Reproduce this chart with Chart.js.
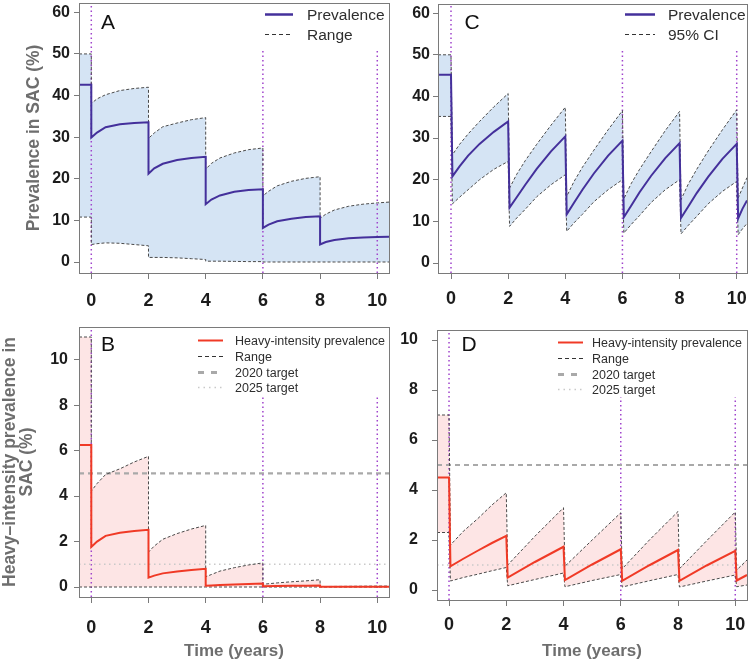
<!DOCTYPE html>
<html>
<head>
<meta charset="utf-8">
<script src="https://cdn.jsdelivr.net/npm/chart.js@4.4.1/dist/chart.umd.min.js"></script>
<style>
  body { margin: 0; background: #fff; }
  #wrap { position: relative; width: 750px; height: 665px; overflow: hidden; background: #fff; }
  canvas { position: absolute; }
</style>
</head>
<body>
<div id="wrap">
  <canvas id="cA" width="392" height="318" style="left:0;top:0"></canvas>
  <canvas id="cC" width="358" height="318" style="left:392px;top:0"></canvas>
  <canvas id="cB" width="392" height="347" style="left:0;top:318px"></canvas>
  <canvas id="cD" width="358" height="347" style="left:392px;top:318px"></canvas>
</div>
<script>
// --- DATOS ---
const xTickVals = [0, 2, 4, 6, 8, 10];
const yTicksTop = [0, 10, 20, 30, 40, 50, 60];
const yTicksBottom = [0, 2, 4, 6, 8, 10];
const mdaYears = [0, 6, 10];
const target2020 = 5;
const target2025 = 1;

// Panel A
const xA = [-0.43, 0, 0, 0.2, 0.5, 1, 1.5, 2, 2, 2.2, 2.5, 3, 3.5, 4, 4, 4.2, 4.5, 5, 5.5, 6, 6, 6.2, 6.5, 7, 7.5, 8, 8, 8.2, 8.5, 9, 9.5, 10, 10.41];
const prevA = [42.6, 42.6, 29.9, 31.1, 32.4, 33.1, 33.4, 33.6, 21.2, 22.5, 23.6, 24.5, 25.0, 25.3, 13.9, 15.0, 16.0, 16.9, 17.3, 17.5, 8.2, 9.0, 9.8, 10.4, 10.8, 11.0, 4.2, 4.8, 5.3, 5.7, 5.9, 6.0, 6.1];
const upA = [50, 50, 38.1, 39.2, 40.2, 41.2, 41.7, 42.0, 29.7, 31.0, 32.5, 33.4, 34.2, 34.7, 22.3, 23.7, 25.0, 26.2, 27.0, 27.4, 15.9, 17.0, 18.3, 19.4, 20.1, 20.5, 10.5, 11.5, 12.5, 13.4, 13.9, 14.2, 14.4];
const loA = [10.8, 10.8, 4.2, 4.4, 4.6, 4.5, 4.2, 3.9, 1.1, 1.1, 1.1, 1.0, 0.8, 0.6, 0.2, 0.2, 0.2, 0.15, 0.1, 0.1, 0, 0, 0, 0, 0, 0, 0, 0, 0, 0, 0, 0, 0];
const vTopA = [62.24, 51.4, 51.4];

// Panel C
const xC = [-0.455, 0, 0.05, 0.3, 0.6, 1, 1.5, 2, 2.05, 2.3, 2.6, 3, 3.5, 4, 4.05, 4.3, 4.6, 5, 5.5, 6, 6.05, 6.3, 6.6, 7, 7.5, 8, 8.05, 8.3, 8.6, 9, 9.5, 10, 10.05, 10.2, 10.36];
const prevC = [45.2, 45.2, 20.8, 23.2, 25.8, 28.6, 31.5, 34.0, 13.3, 15.8, 18.8, 22.6, 26.8, 30.4, 11.7, 14.4, 17.6, 21.5, 25.8, 29.4, 11.0, 13.7, 17.0, 20.9, 25.2, 28.8, 10.8, 13.5, 16.8, 20.7, 25.0, 28.6, 10.7, 13.0, 15.0];
const upC = [50, 50, 26.0, 28.5, 31.0, 34.0, 37.5, 40.7, 18.0, 21.3, 24.6, 28.5, 33.1, 37.4, 16.0, 19.5, 23.0, 27.1, 32.0, 36.6, 15.4, 19.0, 22.5, 26.7, 31.8, 36.4, 15.2, 18.9, 22.5, 26.9, 32.0, 36.8, 15.6, 18.0, 20.5];
const loC = [35.2, 35.2, 14.2, 15.8, 17.6, 20.0, 22.5, 24.4, 8.8, 10.8, 12.9, 15.9, 18.8, 21.2, 7.6, 9.6, 11.7, 14.7, 17.6, 20.0, 7.2, 9.2, 11.4, 14.5, 17.6, 20.0, 7.0, 9.0, 11.2, 14.2, 17.2, 19.6, 6.8, 8.2, 9.5];
const vTopC = [62.2, 51.4, 51.4];

// Panel B
const xB = [-0.43, 0, 0, 0.2, 0.5, 1, 1.5, 2, 2, 2.2, 2.5, 3, 3.5, 4, 4, 4.2, 4.5, 5, 5.5, 6, 6, 6.5, 7, 7.5, 8, 8, 9, 10, 10.41];
const prevB = [6.25, 6.25, 1.76, 2.0, 2.25, 2.39, 2.46, 2.52, 0.41, 0.5, 0.6, 0.68, 0.75, 0.8, 0.06, 0.07, 0.09, 0.11, 0.13, 0.15, 0.03, 0.04, 0.05, 0.05, 0.06, 0.01, 0.01, 0.01, 0.01];
const upB = [11.0, 11.0, 4.22, 4.55, 4.95, 5.2, 5.5, 5.75, 1.54, 1.8, 2.1, 2.35, 2.55, 2.71, 0.45, 0.55, 0.7, 0.85, 0.97, 1.06, 0.12, 0.18, 0.23, 0.27, 0.32, 0.02, 0.03, 0.04, 0.04];
const loB = [0, 0, 0, 0, 0, 0, 0, 0, 0, 0, 0, 0, 0, 0, 0, 0, 0, 0, 0, 0, 0, 0, 0, 0, 0, 0, 0, 0, 0];
const vTopB = [11.44, 8.35, 8.35];

// Panel D
const xD = [-0.42, 0, 0.05, 0.5, 1, 1.5, 2, 2.05, 3, 4, 4.05, 5, 6, 6.05, 7, 8, 8.05, 9, 10, 10.05, 10.41];
const prevD = [4.5, 4.5, 0.95, 1.25, 1.57, 1.88, 2.17, 0.5, 1.12, 1.73, 0.4, 1.02, 1.63, 0.37, 0.99, 1.6, 0.37, 0.98, 1.57, 0.38, 0.6];
const upD = [7.0, 7.0, 1.8, 2.35, 2.85, 3.4, 3.89, 1.0, 2.15, 3.29, 0.95, 2.0, 3.09, 0.85, 2.0, 3.14, 0.85, 1.97, 3.12, 0.8, 1.2];
const loD = [2.3, 2.3, 0.36, 0.5, 0.63, 0.77, 0.9, 0.17, 0.42, 0.68, 0.13, 0.38, 0.62, 0.12, 0.37, 0.62, 0.12, 0.36, 0.6, 0.13, 0.2];
const vTopD = [10.4, 7.72, 7.72];

const legendTop = ['Prevalence', 'Range'];
const legendTopC = ['Prevalence', '95% CI'];
const legendBottom = ['Heavy-intensity prevalence', 'Range', '2020 target', '2025 target'];

// --- ESTILOS ---
const PURPLE = '#44309b';
const RED = '#f03a26';
const BLUE_FILL = '#d5e4f4';
const PINK_FILL = '#fde5e5';
const VLINE = '#a044cc';
const RANGE = '#4a4a4a';
const T2020 = '#a9a9a9';
const T2025 = '#c9c9c9';
const SANS = '"Liberation Sans", Arial, sans-serif';

const pts = (xs, ys) => xs.map((x, i) => ({ x: x, y: ys[i] }));

function vlinePts(tops, ymin) {
    const out = [];
    mdaYears.forEach((x, i) => {
        out.push({ x: x, y: ymin }, { x: x, y: tops[i] }, { x: x, y: null });
    });
    return out;
}

// caja, letra del panel y leyenda
const panelDeco = {
    id: 'panelDeco',
    afterDraw(chart, args, o) {
        const { ctx, chartArea: a } = chart;
        ctx.save();
        ctx.strokeStyle = '#7a7a7a';
        ctx.lineWidth = 1;
        ctx.setLineDash([]);
        ctx.strokeRect(Math.round(a.left) + 0.5, Math.round(a.top) + 0.5, Math.round(a.right - a.left), Math.round(a.bottom - a.top));

        ctx.fillStyle = '#111';
        ctx.font = '21px ' + SANS;
        ctx.textAlign = 'center';
        ctx.textBaseline = 'middle';
        ctx.fillText(o.letter, a.left + o.letterX, a.top + o.letterY);

        ctx.font = o.font;
        ctx.textAlign = 'left';
        o.items.forEach((it, i) => {
            const y = Math.round(a.top + o.y + i * o.rowH) + 0.5;
            ctx.beginPath();
            ctx.strokeStyle = it.color;
            ctx.lineWidth = it.width;
            ctx.setLineDash(it.dash || []);
            ctx.moveTo(a.left + o.x, y);
            ctx.lineTo(a.left + o.x + o.len, y);
            ctx.stroke();
            ctx.setLineDash([]);
            ctx.fillStyle = '#2e2e2e';
            ctx.fillText(it.label, a.left + o.textX, y + 1);
        });
        ctx.restore();
    }
};

function makeChart(id, p) {
    const line = (data, color, width, dash, extra) => Object.assign({
        data: data, borderColor: color, borderWidth: width, borderDash: dash,
        pointRadius: 0, tension: 0, fill: false, spanGaps: false
    }, extra || {});

    const datasets = [
        line(pts(p.xs, p.prev), p.mainColor, 2),
        line(pts(p.xs, p.up), RANGE, 1, [3, 2], { fill: '+1', backgroundColor: p.fillColor }),
        line(pts(p.xs, p.lo), RANGE, 1, [3, 2])
    ];
    if (p.targets) {
        datasets.push(line([{ x: p.xmin, y: target2020 }, { x: p.xmax, y: target2020 }], T2020, 2.2, [5, 4]));
        datasets.push(line([{ x: p.xmin, y: target2025 }, { x: p.xmax, y: target2025 }], T2025, 1.5, [1.5, 3.5]));
    }
    datasets.push(line(vlinePts(p.vTop, p.ymin), VLINE, 1.5, [1.5, 3]));

    return new Chart(document.getElementById(id), {
        type: 'line',
        data: { datasets: datasets },
        plugins: [panelDeco],
        options: {
            responsive: false,
            animation: false,
            devicePixelRatio: 1,
            layout: { padding: { top: p.padTop, right: p.padRight, left: 0, bottom: 0 } },
            plugins: {
                legend: { display: false },
                tooltip: { enabled: false },
                filler: { drawTime: 'beforeDatasetsDraw' },
                panelDeco: p.deco
            },
            scales: {
                x: {
                    type: 'linear', min: p.xmin, max: p.xmax,
                    afterFit: s => { s.height = p.xH; s.paddingLeft = 0; s.paddingRight = 0; },
                    afterBuildTicks: s => { s.ticks = xTickVals.map(v => ({ value: v })); },
                    ticks: { color: '#1c1c1c', padding: p.xPad, maxRotation: 0, font: { family: SANS, weight: 'bold', size: 18 } },
                    grid: { drawOnChartArea: false, tickLength: 6, color: '#7a7a7a' },
                    border: { display: false },
                    title: p.xTitle ? {
                        display: true, text: 'Time (years)', color: '#6e6e6e',
                        font: { family: SANS, weight: 'bold', size: 17 }, padding: { top: 0, bottom: 3 }
                    } : { display: false }
                },
                y: {
                    type: 'linear', min: p.ymin, max: p.ymax,
                    afterFit: s => { s.width = p.yW; s.paddingTop = 0; s.paddingBottom = 0; },
                    afterBuildTicks: s => { s.ticks = p.yTicks.map(v => ({ value: v })); },
                    ticks: { color: '#1c1c1c', padding: p.yPad, font: { family: SANS, weight: 'bold', size: 16 } },
                    grid: { drawOnChartArea: false, tickLength: 5, color: '#7a7a7a' },
                    border: { display: false },
                    title: p.yTitle ? {
                        display: true, text: p.yTitle, color: '#6e6e6e',
                        font: { family: SANS, weight: 'bold', size: 17.5, lineHeight: p.yTitleLH },
                        padding: { top: p.yTitlePad, bottom: 0 }
                    } : { display: false }
                }
            }
        }
    });
}

const legendTopItems = labels => [
    { label: labels[0], color: PURPLE, width: 2.5 },
    { label: labels[1], color: '#333', width: 1, dash: [4, 3] }
];
const legendBottomItems = [
    { label: legendBottom[0], color: RED, width: 2 },
    { label: legendBottom[1], color: '#333', width: 1, dash: [4, 3] },
    { label: legendBottom[2], color: T2020, width: 3, dash: [6, 7] },
    { label: legendBottom[3], color: T2025, width: 1.5, dash: [1.5, 4] }
];

makeChart('cA', {
    xs: xA, prev: prevA, up: upA, lo: loA, vTop: vTopA, mainColor: PURPLE, fillColor: BLUE_FILL,
    xmin: -0.43, xmax: 10.41, ymin: -2.64, ymax: 62.24, yTicks: yTicksTop,
    padTop: 3, padRight: 3, yW: 79, xH: 45, xPad: 11, yPad: 4,
    yTitle: 'Prevalence in SAC (%)', yTitleLH: 1.2, yTitlePad: 24,
    deco: { letter: 'A', letterX: 29, letterY: 20, font: '15.5px ' + SANS, items: legendTopItems(legendTop), x: 186, len: 28, textX: 228, y: 11, rowH: 19.5 }
});

makeChart('cC', {
    xs: xC, prev: prevC, up: upC, lo: loC, vTop: vTopC, mainColor: PURPLE, fillColor: BLUE_FILL,
    xmin: -0.455, xmax: 10.36, ymin: -2.4, ymax: 62.2, yTicks: yTicksTop,
    padTop: 4, padRight: 3, yW: 46, xH: 45, xPad: 9, yPad: 3,
    yTitle: null,
    deco: { letter: 'C', letterX: 34, letterY: 19, font: '15.5px ' + SANS, items: legendTopItems(legendTopC), x: 187, len: 30, textX: 230, y: 10, rowH: 19.5 }
});

makeChart('cB', {
    xs: xB, prev: prevB, up: upB, lo: loB, vTop: vTopB, mainColor: RED, fillColor: PINK_FILL, targets: true,
    xmin: -0.43, xmax: 10.41, ymin: -0.44, ymax: 11.44, yTicks: yTicksBottom,
    padTop: 9, padRight: 3, yW: 79, xH: 68, xPad: 14, yPad: 6, xTitle: true,
    yTitle: ['Heavy\u2013intensity prevalence in', 'SAC (%)'], yTitleLH: 1.0, yTitlePad: 1,
    deco: { letter: 'B', letterX: 29, letterY: 18, font: '12.5px ' + SANS, items: legendBottomItems, x: 119, len: 25, textX: 156, y: 13, rowH: 15.8 }
});

makeChart('cD', {
    xs: xD, prev: prevD, up: upD, lo: loD, vTop: vTopD, mainColor: RED, fillColor: PINK_FILL, targets: true,
    xmin: -0.42, xmax: 10.41, ymin: -0.4, ymax: 10.4, yTicks: yTicksBottom,
    padTop: 12, padRight: 3, yW: 45, xH: 65, xPad: 8, yPad: 14, xTitle: true,
    yTitle: null,
    deco: { letter: 'D', letterX: 32, letterY: 15, font: '12.5px ' + SANS, items: legendBottomItems, x: 121, len: 25, textX: 155, y: 12, rowH: 15.8 }
});
</script>
</body>
</html>
